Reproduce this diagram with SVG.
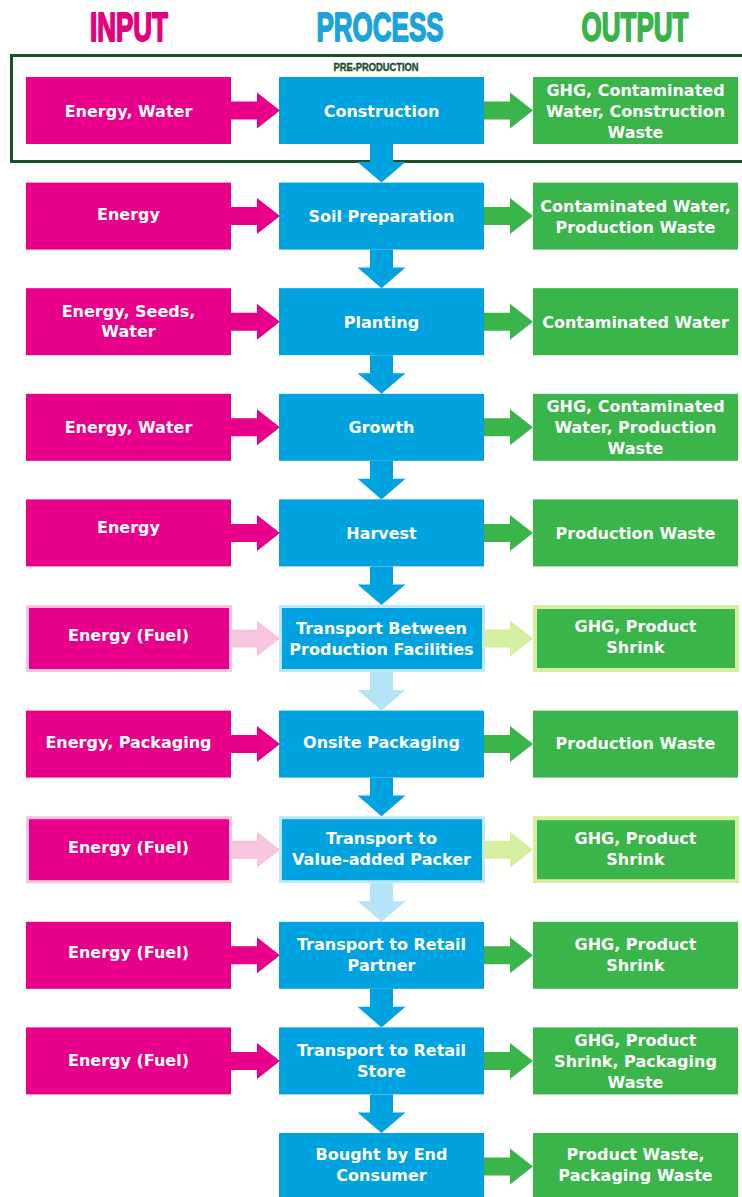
<svg xmlns="http://www.w3.org/2000/svg" xmlns:xlink="http://www.w3.org/1999/xlink" width="742" height="1197" viewBox="0 0 742 1197">
<style>
.in{fill:#e8008a}
.pr{fill:#00a3e0}
.out{fill:#39b54a}
.inL{fill:#e8008a;stroke:#f9c4df;stroke-width:3}
.prL{fill:#00a3e0;stroke:#bde8f8;stroke-width:3}
.outL{fill:#39b54a;stroke:#d5eea0;stroke-width:4}
.t{font-family:"DejaVu Sans","Liberation Sans",sans-serif;font-weight:bold;font-size:16px;fill:#ffffff;text-anchor:middle}
.h{font-family:"Liberation Sans","DejaVu Sans",sans-serif;font-weight:bold;font-size:40px;text-anchor:middle;stroke-width:1.8;stroke-linejoin:round}
.ai{fill:#e8008a}
.ao{fill:#39b54a}
.ap{fill:#00a3e0}
.aiL{fill:#f9c4df}
.aoL{fill:#d5eea0}
.apL{fill:#b5e4f8}
</style>
<defs>
<path id="harrow" d="M0,-9 H26 V-18 L49,0 L26,18 V9 H0 Z"/>
<path id="varrow" d="M-11.5,0 H11.5 V18 H24 L0,38.6 L-24,18 H-11.5 Z"/>
</defs>
<rect width="742" height="1197" fill="#ffffff"/>
<g id="headers">
<text class="h" transform="translate(129,41) scale(0.65,1)" x="0" y="0" fill="#e5007d" stroke="#e5007d">INPUT</text>
<text class="h" transform="translate(380,41) scale(0.65,1)" x="0" y="0" fill="#1ba3db" stroke="#1ba3db">PROCESS</text>
<text class="h" transform="translate(635,41) scale(0.65,1)" x="0" y="0" fill="#38b449" stroke="#38b449">OUTPUT</text>
</g>
<g id="preproduction">
<rect x="11.5" y="55.5" width="760" height="106" fill="none" stroke="#1a4f2a" stroke-width="3"/>
<text transform="translate(376,71) scale(0.85,1)" x="0" y="0" font-family="Liberation Sans, sans-serif" font-weight="bold" font-size="11" fill="#1a4f2a" stroke="#1a4f2a" stroke-width="0.4" text-anchor="middle">PRE-PRODUCTION</text>
</g>
<g id="connectors">
<use xlink:href="#harrow" class="ai" x="231" y="110.5"/>
<use xlink:href="#harrow" class="ao" x="484" y="110.5"/>
<use xlink:href="#harrow" class="ai" x="231" y="216.1"/>
<use xlink:href="#harrow" class="ao" x="484" y="216.1"/>
<use xlink:href="#harrow" class="ai" x="231" y="321.7"/>
<use xlink:href="#harrow" class="ao" x="484" y="321.7"/>
<use xlink:href="#harrow" class="ai" x="231" y="427.3"/>
<use xlink:href="#harrow" class="ao" x="484" y="427.3"/>
<use xlink:href="#harrow" class="ai" x="231" y="532.9"/>
<use xlink:href="#harrow" class="ao" x="484" y="532.9"/>
<use xlink:href="#harrow" class="aiL" x="231" y="638.5"/>
<use xlink:href="#harrow" class="aoL" x="484" y="638.5"/>
<use xlink:href="#harrow" class="ai" x="231" y="744.1"/>
<use xlink:href="#harrow" class="ao" x="484" y="744.1"/>
<use xlink:href="#harrow" class="aiL" x="231" y="849.7"/>
<use xlink:href="#harrow" class="aoL" x="484" y="849.7"/>
<use xlink:href="#harrow" class="ai" x="231" y="955.3"/>
<use xlink:href="#harrow" class="ao" x="484" y="955.3"/>
<use xlink:href="#harrow" class="ai" x="231" y="1060.9"/>
<use xlink:href="#harrow" class="ao" x="484" y="1060.9"/>
<use xlink:href="#harrow" class="ao" x="484" y="1166.5"/>
<use xlink:href="#varrow" class="ap" x="381.5" y="144"/>
<use xlink:href="#varrow" class="ap" x="381.5" y="249.6"/>
<use xlink:href="#varrow" class="ap" x="381.5" y="355.2"/>
<use xlink:href="#varrow" class="ap" x="381.5" y="460.8"/>
<use xlink:href="#varrow" class="ap" x="381.5" y="566.4"/>
<use xlink:href="#varrow" class="apL" x="381.5" y="672"/>
<use xlink:href="#varrow" class="ap" x="381.5" y="777.6"/>
<use xlink:href="#varrow" class="apL" x="381.5" y="883.2"/>
<use xlink:href="#varrow" class="ap" x="381.5" y="988.8"/>
<use xlink:href="#varrow" class="ap" x="381.5" y="1094.4"/>
</g>
<!-- Row 0 -->
<g id="in0"><rect class="in" x="26" y="77" width="205" height="67"/><text class="t" x="128.5" y="116.5">Energy, Water</text></g>
<g id="pr0"><rect class="pr" x="279" y="77" width="205" height="67"/><text class="t" x="381.5" y="116.5">Construction</text></g>
<g id="out0"><rect class="out" x="533" y="77" width="205" height="67"/><text class="t" x="635.5" y="95.5">GHG, Contaminated</text><text class="t" x="635.5" y="116.5">Water, Construction</text><text class="t" x="635.5" y="137.5">Waste</text></g>
<!-- Row 1 -->
<g id="in1"><rect class="in" x="26" y="182.6" width="205" height="67"/><text class="t" x="128.5" y="220">Energy</text></g>
<g id="pr1"><rect class="pr" x="279" y="182.6" width="205" height="67"/><text class="t" x="381.5" y="222">Soil Preparation</text></g>
<g id="out1"><rect class="out" x="533" y="182.6" width="205" height="67"/><text class="t" x="635.5" y="211.6">Contaminated Water,</text><text class="t" x="635.5" y="232.6">Production Waste</text></g>
<!-- Row 2 -->
<g id="in2"><rect class="in" x="26" y="288.2" width="205" height="67"/><text class="t" x="128.5" y="317">Energy, Seeds,</text><text class="t" x="128.5" y="337">Water</text></g>
<g id="pr2"><rect class="pr" x="279" y="288.2" width="205" height="67"/><text class="t" x="381.5" y="327.7">Planting</text></g>
<g id="out2"><rect class="out" x="533" y="288.2" width="205" height="67"/><text class="t" x="635.5" y="327.7">Contaminated Water</text></g>
<!-- Row 3 -->
<g id="in3"><rect class="in" x="26" y="393.8" width="205" height="67"/><text class="t" x="128.5" y="433.3">Energy, Water</text></g>
<g id="pr3"><rect class="pr" x="279" y="393.8" width="205" height="67"/><text class="t" x="381.5" y="433.3">Growth</text></g>
<g id="out3"><rect class="out" x="533" y="393.8" width="205" height="67"/><text class="t" x="635.5" y="412.3">GHG, Contaminated</text><text class="t" x="635.5" y="433.3">Water, Production</text><text class="t" x="635.5" y="454.3">Waste</text></g>
<!-- Row 4 -->
<g id="in4"><rect class="in" x="26" y="499.4" width="205" height="67"/><text class="t" x="128.5" y="533">Energy</text></g>
<g id="pr4"><rect class="pr" x="279" y="499.4" width="205" height="67"/><text class="t" x="381.5" y="538.9">Harvest</text></g>
<g id="out4"><rect class="out" x="533" y="499.4" width="205" height="67"/><text class="t" x="635.5" y="538.9">Production Waste</text></g>
<!-- Row 5 -->
<g id="in5"><rect class="inL" x="27.5" y="606.5" width="203" height="64"/><text class="t" x="128.5" y="641">Energy (Fuel)</text></g>
<g id="pr5"><rect class="prL" x="280.5" y="606.5" width="203" height="64"/><text class="t" x="381.5" y="634">Transport Between</text><text class="t" x="381.5" y="655">Production Facilities</text></g>
<g id="out5"><rect class="outL" x="535" y="607" width="202" height="63"/><text class="t" x="635.5" y="632">GHG, Product</text><text class="t" x="635.5" y="653">Shrink</text></g>
<!-- Row 6 -->
<g id="in6"><rect class="in" x="26" y="710.6" width="205" height="67"/><text class="t" x="128.5" y="748">Energy, Packaging</text></g>
<g id="pr6"><rect class="pr" x="279" y="710.6" width="205" height="67"/><text class="t" x="381.5" y="748">Onsite Packaging</text></g>
<g id="out6"><rect class="out" x="533" y="710.6" width="205" height="67"/><text class="t" x="635.5" y="749">Production Waste</text></g>
<!-- Row 7 -->
<g id="in7"><rect class="inL" x="27.5" y="817.7" width="203" height="64"/><text class="t" x="128.5" y="853">Energy (Fuel)</text></g>
<g id="pr7"><rect class="prL" x="280.5" y="817.7" width="203" height="64"/><text class="t" x="381.5" y="844">Transport to</text><text class="t" x="381.5" y="865">Value-added Packer</text></g>
<g id="out7"><rect class="outL" x="535" y="818.2" width="202" height="63"/><text class="t" x="635.5" y="844">GHG, Product</text><text class="t" x="635.5" y="865">Shrink</text></g>
<!-- Row 8 -->
<g id="in8"><rect class="in" x="26" y="921.8" width="205" height="67"/><text class="t" x="128.5" y="958">Energy (Fuel)</text></g>
<g id="pr8"><rect class="pr" x="279" y="921.8" width="205" height="67"/><text class="t" x="381.5" y="950">Transport to Retail</text><text class="t" x="381.5" y="971">Partner</text></g>
<g id="out8"><rect class="out" x="533" y="921.8" width="205" height="67"/><text class="t" x="635.5" y="950">GHG, Product</text><text class="t" x="635.5" y="971">Shrink</text></g>
<!-- Row 9 -->
<g id="in9"><rect class="in" x="26" y="1027.4" width="205" height="67"/><text class="t" x="128.5" y="1066">Energy (Fuel)</text></g>
<g id="pr9"><rect class="pr" x="279" y="1027.4" width="205" height="67"/><text class="t" x="381.5" y="1056">Transport to Retail</text><text class="t" x="381.5" y="1077">Store</text></g>
<g id="out9"><rect class="out" x="533" y="1027.4" width="205" height="67"/><text class="t" x="635.5" y="1046">GHG, Product</text><text class="t" x="635.5" y="1067">Shrink, Packaging</text><text class="t" x="635.5" y="1088">Waste</text></g>
<!-- Row 10 -->
<g id="pr10"><rect class="pr" x="279" y="1133" width="205" height="67"/><text class="t" x="381.5" y="1160">Bought by End</text><text class="t" x="381.5" y="1181">Consumer</text></g>
<g id="out10"><rect class="out" x="533" y="1133" width="205" height="67"/><text class="t" x="635.5" y="1160">Product Waste,</text><text class="t" x="635.5" y="1181">Packaging Waste</text></g>
</svg>
